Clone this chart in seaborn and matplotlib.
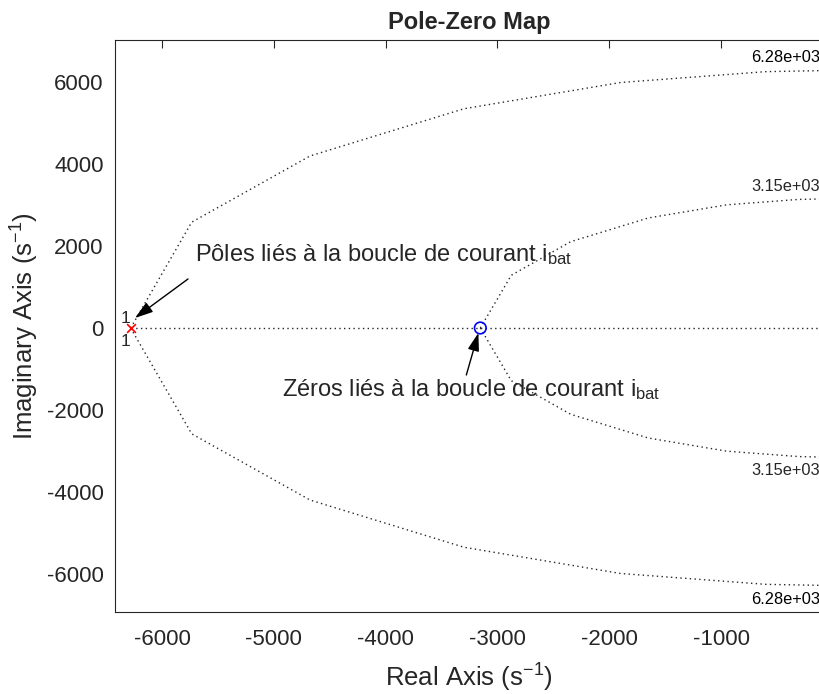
import matplotlib
matplotlib.use('Agg')
import matplotlib.pyplot as plt
import seaborn as sns
import pandas as pd

# Pôles / zéros
pole_re = [-6280]
pole_im = [0]
zero_re = [-3153]
zero_im = [0]

# Grille : cercles de pulsation propre (sommets)
outer_re = [-6280, -5734, -4675, -3300, -1900, -600, 0]
outer_im_up = [0, 2580, 4195, 5345, 5985, 6250, 6280]
outer_im_dn = [0, -2580, -4195, -5345, -5985, -6250, -6280]
inner_re = [-3153, -2876, -2344, -1650, -950, -300, 0]
inner_im_up = [0, 1285, 2105, 2683, 3003, 3136, 3150]
inner_im_dn = [0, -1285, -2105, -2683, -3003, -3136, -3150]
axis_re = [-6280, 0]
axis_im = [0, 0]

wn_values = [6280, 3150]
wn_labels = ['6.28e+03', '3.15e+03']

sns.set_style('white')
plt.rcParams['font.family'] = ['Liberation Sans', 'DejaVu Sans']
plt.rcParams['mathtext.fontset'] = 'custom'
plt.rcParams['mathtext.rm'] = 'Liberation Sans'
plt.rcParams['mathtext.it'] = 'Liberation Sans'
plt.rcParams['axes.unicode_minus'] = False

fig = plt.figure(figsize=(8.19, 6.94), dpi=100)
ax = fig.add_axes([0.140, 0.118, 0.866, 0.8245])

dot = (0, (1, 2.4))
grid_color = '#262626'
curves = [
    (outer_re, outer_im_up), (outer_re, outer_im_dn),
    (inner_re, inner_im_up), (inner_re, inner_im_dn),
    (axis_re, axis_im),
]
for xs, ys in curves:
    df = pd.DataFrame({'re': xs, 'im': ys})
    sns.lineplot(data=df, x='re', y='im', sort=False, ax=ax, color=grid_color,
                 linewidth=1.0, linestyle=dot, estimator=None)

# Étiquettes de la grille
for wn, lab, col in zip(wn_values, wn_labels, ['black', '#262626']):
    ax.text(-115, wn + 120, lab, ha='right', va='bottom', fontsize=11.8, color=col)
    ax.text(-115, -wn - 150, lab, ha='right', va='top', fontsize=11.8, color=col)

# Pôles et zéros
sns.scatterplot(x=pole_re, y=pole_im, ax=ax, marker='x', color='red', s=40,
                linewidth=1.2, zorder=5)
sns.scatterplot(x=zero_re, y=zero_im, ax=ax, marker='o', facecolor='none',
                edgecolor='blue', s=70, linewidth=1.2, zorder=5)

ax.text(-6330, 230, '1', ha='center', va='center', fontsize=12.5)
ax.text(-6330, -330, '1', ha='center', va='center', fontsize=12.5)

# Annotations
arrow = dict(arrowstyle='-|>,head_length=1.1,head_width=0.35',
             color='black', lw=1.0, shrinkA=0, shrinkB=0)
ax.annotate('', xy=(-6241, 244), xytext=(-5767, 1195), arrowprops=arrow)
ax.text(-5702, 1780, 'Pôles liés à la boucle de courant i$_{\\mathrm{bat}}$',
        ha='left', va='center', fontsize=17)
ax.annotate('', xy=(-3170, -120), xytext=(-3278, -1146), arrowprops=arrow)
ax.text(-4925, -1512, 'Zéros liés à la boucle de courant i$_{\\mathrm{bat}}$',
        ha='left', va='center', fontsize=17)

ax.set_xlim(-6423, -80)
ax.set_ylim(-6927, 7024)
ax.set_xticks([-6000, -5000, -4000, -3000, -2000, -1000])
ax.set_yticks([-6000, -4000, -2000, 0, 2000, 4000, 6000])
ax.tick_params(direction='in', top=True, right=False, length=6, width=0.8,
               labelsize=16, colors='#262626')
ax.tick_params(axis='x', pad=12)
ax.tick_params(axis='y', pad=8)
for sp in ax.spines.values():
    sp.set_color('#262626')
    sp.set_linewidth(0.8)

ax.set_xlabel('Real Axis (s$^{\\mathrm{-1}}$)', fontsize=18.5, color='#262626', labelpad=9)
ax.set_ylabel('Imaginary Axis (s$^{\\mathrm{-1}}$)', fontsize=18.5, color='#262626', labelpad=4)
ax.set_title('Pole-Zero Map', fontsize=17, fontweight='bold', pad=8)

fig.savefig('out.png', dpi=100)
